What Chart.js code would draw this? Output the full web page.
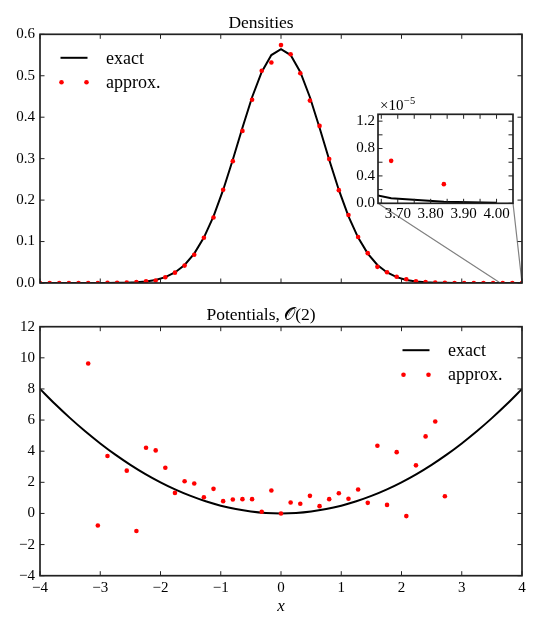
<!DOCTYPE html>
<html lang="en">
<head>
<meta charset="UTF-8">
<title>Densities and Potentials</title>
<script src="https://cdn.jsdelivr.net/npm/chart.js"></script>
<style>
    body { margin: 0; background: #fff; }
    #wrap { position: relative; width: 540px; height: 630px; }
    #wrap canvas { position: absolute; }
</style>
</head>
<body>
<div id="wrap">
    <canvas id="densityChart" width="540" height="300" style="left:0;top:0"></canvas>
    <canvas id="insetChart" width="178" height="130" style="left:340px;top:92px"></canvas>
    <canvas id="potentialChart" width="540" height="330" style="left:0;top:300px"></canvas>
</div>
<script>
// ---- data ----
const xGrid = [-4, -3.84, -3.68, -3.52, -3.36, -3.2, -3.04, -2.88, -2.72, -2.56, -2.4, -2.24, -2.08,
    -1.92, -1.76, -1.6, -1.44, -1.28, -1.12, -0.96, -0.8, -0.64, -0.48, -0.32, -0.16, 0,
    0.16, 0.32, 0.48, 0.64, 0.8, 0.96, 1.12, 1.28, 1.44, 1.6, 1.76, 1.92, 2.08, 2.24, 2.4,
    2.56, 2.72, 2.88, 3.04, 3.2, 3.36, 3.52, 3.68, 3.84, 4];

const densityExact = [6.3e-8, 2.2e-7, 7.4e-7, 2.35e-6, 7.0e-6, 2.0e-5, 5.5e-5, 1.41e-4, 3.45e-4, 8.04e-4,
    0.00178, 0.00373, 0.00745, 0.01414, 0.02547, 0.0436, 0.0709, 0.1096, 0.1609, 0.2245,
    0.2975, 0.3746, 0.4481, 0.5093, 0.5499, 0.5642, 0.5499, 0.5093, 0.4481, 0.3746,
    0.2975, 0.2245, 0.1609, 0.1096, 0.0709, 0.0436, 0.02547, 0.01414, 0.00745, 0.00373,
    0.00178, 8.04e-4, 3.45e-4, 1.41e-4, 5.5e-5, 2.0e-5, 7.0e-6, 2.35e-6, 7.4e-7, 2.2e-7, 6.3e-8];

const densityApprox = [0, 0.00001, 0.00001, 0.00002, 0.00003, 0.00005, 0.0001, 0.0002, 0.0004, 0.0009,
    0.002, 0.004, 0.006, 0.014, 0.025, 0.042, 0.068, 0.109, 0.158, 0.225,
    0.294, 0.367, 0.442, 0.512, 0.532, 0.574, 0.552, 0.506, 0.44, 0.379,
    0.299, 0.224, 0.164, 0.111, 0.072, 0.039, 0.026, 0.015, 0.009, 0.004,
    0.002, 0.0008, 0.0003, 0.0001, 0.00005, 0.00003, 0.00001, 0.000008, 0.0000062, 0.0000028, -0.000001];

const potX = [-3.2, -3.04, -2.88, -2.56, -2.4, -2.24, -2.08, -1.92, -1.76, -1.6, -1.44, -1.28, -1.12,
    -0.96, -0.8, -0.64, -0.48, -0.32, -0.16, 0, 0.16, 0.32, 0.48, 0.64, 0.8, 0.96, 1.12,
    1.28, 1.44, 1.6, 1.76, 1.92, 2.08, 2.24, 2.4, 2.56, 2.72];
const potApprox = [9.64, -0.77, 3.69, 2.75, -1.13, 4.22, 4.05, 2.94, 1.32, 2.07, 1.92, 1.04, 1.58,
    0.79, 0.9, 0.92, 0.92, 0.11, 1.47, 0, 0.7, 0.62, 1.13, 0.47, 0.92, 1.3, 0.94,
    1.54, 0.68, 4.35, 0.55, 3.94, -0.17, 3.09, 4.95, 5.91, 1.11];

const potCurveX = [-4, -3.75, -3.5, -3.25, -3, -2.75, -2.5, -2.25, -2, -1.75, -1.5, -1.25, -1, -0.75, -0.5, -0.25,
    0, 0.25, 0.5, 0.75, 1, 1.25, 1.5, 1.75, 2, 2.25, 2.5, 2.75, 3, 3.25, 3.5, 3.75, 4];
const potExact = [8, 7.03, 6.125, 5.28, 4.5, 3.78, 3.125, 2.53, 2, 1.53, 1.125, 0.78, 0.5, 0.28, 0.125, 0.03,
    0, 0.03, 0.125, 0.28, 0.5, 0.78, 1.125, 1.53, 2, 2.53, 3.125, 3.78, 4.5, 5.28, 6.125, 7.03, 8];

const insetXTicks = [3.65, 3.7, 3.75, 3.8, 3.85, 3.9, 3.95, 4.0];
const insetXLabels = ['', '3.70', '', '3.80', '', '3.90', '', '4.00'];
const insetYTicks = [0, 0.2e-5, 0.4e-5, 0.6e-5, 0.8e-5, 1.0e-5, 1.2e-5];
const insetYLabels = ['0.0', '', '0.4', '', '0.8', '', '1.2'];

// ---- style ----
const SERIF = "'Liberation Serif', 'DejaVu Serif', serif";
const INSET_LEFT = 340, INSET_TOP = 92;
Chart.defaults.color = '#000';
Chart.defaults.font.family = SERIF;

const minusFmt = v => (v < 0 ? '\u2212' + Math.abs(v) : String(v));
const pairs = (xs, ys) => xs.map((x, i) => ({x: x, y: ys[i]}));

// inward ticks on all four sides plus the box
const frameTicks = {
    id: 'frameTicks',
    afterDraw(chart, args, opts) {
        const {ctx, chartArea: a, scales} = chart;
        const len = opts.len || 4.5;
        ctx.save();
        ctx.strokeStyle = '#222';
        ctx.lineWidth = 1;
        ctx.beginPath();
        scales.x.ticks.forEach(t => {
            const px = scales.x.getPixelForValue(t.value);
            ctx.moveTo(px, a.bottom); ctx.lineTo(px, a.bottom - len);
            ctx.moveTo(px, a.top); ctx.lineTo(px, a.top + len);
        });
        scales.y.ticks.forEach(t => {
            const py = scales.y.getPixelForValue(t.value);
            ctx.moveTo(a.left, py); ctx.lineTo(a.left + len, py);
            ctx.moveTo(a.right, py); ctx.lineTo(a.right - len, py);
        });
        ctx.stroke();
        ctx.lineWidth = 1.7;
        ctx.strokeRect(a.left, a.top, a.right - a.left, a.bottom - a.top);
        ctx.restore();
    }
};

// matplotlib-like legend: line sample / two markers, no frame
const dotLegend = {
    id: 'dotLegend',
    afterDraw(chart, args, opts) {
        if (!opts.order) return;
        const {ctx, chartArea: a} = chart;
        const x0 = opts.side === 'right' ? a.right + opts.dx : a.left + opts.dx;
        ctx.save();
        opts.order.forEach((di, row) => {
            const ds = chart.data.datasets[di];
            const y = a.top + opts.dy + row * opts.rowGap;
            if (ds.showLine) {
                ctx.strokeStyle = ds.borderColor;
                ctx.lineWidth = ds.borderWidth;
                ctx.beginPath();
                ctx.moveTo(x0, y); ctx.lineTo(x0 + 27, y);
                ctx.stroke();
            } else {
                ctx.fillStyle = ds.backgroundColor;
                [x0 + 1, x0 + 26].forEach(px => {
                    ctx.beginPath();
                    ctx.arc(px, y, ds.pointRadius, 0, Math.PI * 2);
                    ctx.fill();
                });
            }
            ctx.fillStyle = '#000';
            ctx.font = '18px ' + SERIF;
            ctx.textBaseline = 'middle';
            ctx.fillText(ds.label, x0 + 45.5, y + 1);
        });
        ctx.restore();
    }
};

// inset: white face and the x10^-5 offset text
const insetDecor = {
    id: 'insetDecor',
    beforeDraw(chart) {
        const {ctx, chartArea: a} = chart;
        ctx.save();
        ctx.fillStyle = '#fff';
        ctx.fillRect(a.left, a.top, a.right - a.left, a.bottom - a.top);
        ctx.restore();
    },
    afterDraw(chart) {
        const {ctx, chartArea: a} = chart;
        ctx.save();
        ctx.fillStyle = '#000';
        ctx.textBaseline = 'alphabetic';
        ctx.font = '15px ' + SERIF;
        ctx.fillText('\u00d710', a.left + 2, a.top - 4);
        const w = ctx.measureText('\u00d710').width;
        ctx.font = '10.5px ' + SERIF;
        ctx.fillText('\u22125', a.left + 2 + w + 0.5, a.top - 10);
        ctx.restore();
    }
};

const serifTick = {family: SERIF, size: 15};

// ---- inset chart ----
const insetChart = new Chart(document.getElementById('insetChart'), {
    type: 'scatter',
    data: {
        datasets: [
            {label: 'approx.', data: pairs(xGrid, densityApprox), showLine: false,
             backgroundColor: '#ff0000', borderWidth: 0, pointRadius: 2.3},
            {label: 'exact', data: pairs(xGrid, densityExact), showLine: true,
             borderColor: '#000', borderWidth: 2, pointRadius: 0}
        ]
    },
    options: {
        responsive: false, animation: false, devicePixelRatio: 1,
        layout: {padding: {left: 0, right: 5, top: 22.3, bottom: 0}},
        plugins: {legend: {display: false}, tooltip: {enabled: false}},
        scales: {
            x: {
                type: 'linear', min: 3.64, max: 4.05,
                grid: {display: false, drawTicks: false}, border: {display: false},
                afterBuildTicks: s => { s.ticks = insetXTicks.map(v => ({value: v})); },
                ticks: {font: serifTick, padding: 2, maxRotation: 0, autoSkip: false,
                        callback: (v, i) => insetXLabels[i]},
                afterFit: s => { s.height = 18.7; }
            },
            y: {
                min: 0, max: 1.3e-5,
                grid: {display: false, drawTicks: false}, border: {display: false},
                afterBuildTicks: s => { s.ticks = insetYTicks.map(v => ({value: v})); },
                ticks: {font: serifTick, padding: 3, autoSkip: false,
                        callback: (v, i) => insetYLabels[i]},
                afterFit: s => { s.width = 38; }
            }
        }
    },
    plugins: [insetDecor, frameTicks]
});

// connectors from the inset corners down to the zoomed x-range on the main axis
const insetLinks = {
    id: 'insetLinks',
    afterDraw(chart) {
        const {ctx, scales} = chart;
        const ia = insetChart.chartArea;
        const ix = insetChart.scales.x;
        const y0 = scales.y.getPixelForValue(0);
        const pxL = scales.x.getPixelForValue(ix.min);
        const pxR = scales.x.getPixelForValue(Math.min(ix.max, scales.x.max));
        ctx.save();
        ctx.strokeStyle = '#808080';
        ctx.lineWidth = 1.2;
        ctx.beginPath();
        ctx.moveTo(INSET_LEFT + ia.left, INSET_TOP + ia.bottom); ctx.lineTo(pxL, y0);
        ctx.moveTo(INSET_LEFT + ia.right, INSET_TOP + ia.bottom); ctx.lineTo(pxR, y0);
        ctx.stroke();
        ctx.restore();
    }
};

// ---- densities ----
new Chart(document.getElementById('densityChart'), {
    type: 'scatter',
    data: {
        datasets: [
            {label: 'approx.', data: pairs(xGrid, densityApprox), showLine: false,
             backgroundColor: '#ff0000', borderWidth: 0, pointRadius: 2.3},
            {label: 'exact', data: pairs(xGrid, densityExact), showLine: true,
             borderColor: '#000', borderWidth: 2, pointRadius: 0}
        ]
    },
    options: {
        responsive: false, animation: false, devicePixelRatio: 1,
        layout: {padding: {left: 0, right: 18, top: 0, bottom: 0}},
        plugins: {
            legend: {display: false}, tooltip: {enabled: false},
            title: {display: true, text: 'Densities', color: '#000',
                    font: {family: SERIF, size: 17.5, weight: 'normal'},
                    padding: {top: 12.5, bottom: 0.8}},
            dotLegend: {order: [1, 0], side: 'left', dx: 20.5, dy: 23.5, rowGap: 24.5}
        },
        scales: {
            x: {
                type: 'linear', min: -4, max: 4,
                grid: {display: false, drawTicks: false}, border: {display: false},
                ticks: {display: false, stepSize: 1},
                afterFit: s => { s.height = 17; }
            },
            y: {
                min: 0, max: 0.6,
                grid: {display: false, drawTicks: false}, border: {display: false},
                ticks: {font: serifTick, padding: 5, stepSize: 0.1, callback: v => v.toFixed(1)},
                afterFit: s => { s.width = 40; }
            }
        }
    },
    plugins: [insetLinks, frameTicks, dotLegend]
});

// ---- potentials ----
new Chart(document.getElementById('potentialChart'), {
    type: 'scatter',
    data: {
        datasets: [
            {label: 'approx.', data: pairs(potX, potApprox), showLine: false,
             backgroundColor: '#ff0000', borderWidth: 0, pointRadius: 2.3},
            {label: 'exact', data: pairs(potCurveX, potExact), showLine: true, tension: 0.3,
             borderColor: '#000', borderWidth: 2, pointRadius: 0}
        ]
    },
    options: {
        responsive: false, animation: false, devicePixelRatio: 1,
        layout: {padding: {left: 0, right: 18, top: 0, bottom: 0}},
        plugins: {
            legend: {display: false}, tooltip: {enabled: false},
            title: {display: true, text: 'Potentials, \u{1D4AA}(2)', color: '#000',
                    font: {family: SERIF, size: 17.5, weight: 'normal'},
                    padding: {top: 4.5, bottom: 1.2}},
            dotLegend: {order: [1, 0], side: 'right', dx: -119.5, dy: 23.5, rowGap: 24.5}
        },
        scales: {
            x: {
                type: 'linear', min: -4, max: 4,
                grid: {display: false, drawTicks: false}, border: {display: false},
                ticks: {font: serifTick, padding: 3, stepSize: 1, maxRotation: 0, callback: minusFmt},
                title: {display: true, text: 'x', color: '#000',
                        font: {family: SERIF, size: 17, style: 'italic'},
                        padding: {top: 0, bottom: 12.8}},
                afterFit: s => { s.height = 54.3; }
            },
            y: {
                min: -4, max: 12,
                grid: {display: false, drawTicks: false}, border: {display: false},
                ticks: {font: serifTick, padding: 5, stepSize: 2, callback: minusFmt},
                afterFit: s => { s.width = 40; }
            }
        }
    },
    plugins: [frameTicks, dotLegend]
});
</script>
</body>
</html>
